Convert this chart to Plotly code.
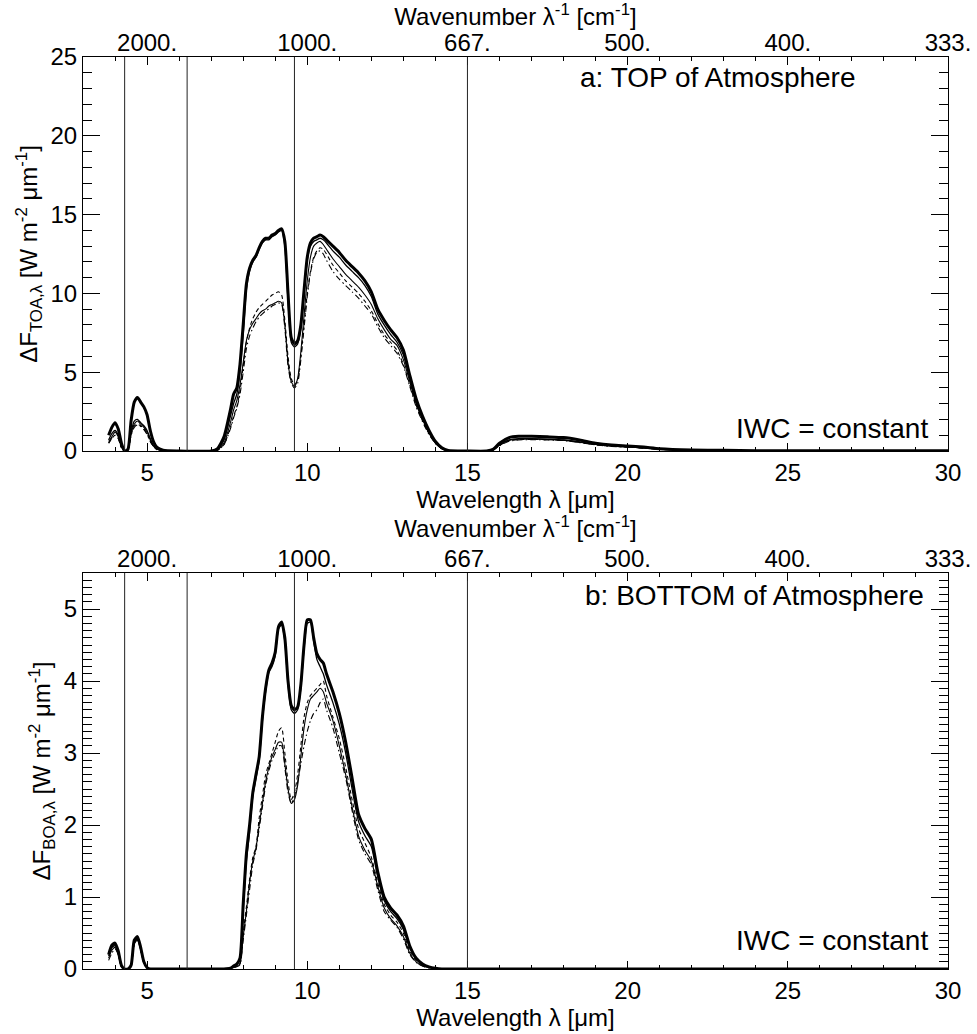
import plotly.graph_objects as go

# ---------------- data ----------------
X_A = [3.8, 3.9, 4.0, 4.1, 4.2, 4.3, 4.4, 4.5, 4.6, 4.7,
       4.8, 4.9, 5.0, 5.1, 5.2, 5.3, 5.5, 6.0, 7.0, 7.2,
       7.4, 7.6, 7.7, 7.8, 7.9, 8.0, 8.1, 8.2, 8.3, 8.4,
       8.5, 8.6, 8.7, 8.8, 8.9, 9.0, 9.1, 9.2, 9.3, 9.4,
       9.5, 9.6, 9.7, 9.8, 9.9, 10.0, 10.1, 10.2, 10.3, 10.4,
       10.5, 10.6, 10.8, 11.0, 11.2, 11.4, 11.6, 11.8, 12.0, 12.2,
       12.4, 12.6, 12.8, 13.0, 13.2, 13.4, 13.6, 13.8, 14.0, 14.2,
       14.4, 15.0, 15.6, 15.8, 16.0, 16.3, 16.6, 17.0, 17.5, 18.0,
       18.5, 19.0, 19.5, 20.0, 20.5, 21.0, 22.0, 23.0, 24.0, 25.0,
       26.0, 27.0, 28.0, 29.0, 30.0]

# TOA: thick solid
A_THICK = [1.0, 1.5, 1.8, 1.4, 0.5, 0.0, 0.1, 1.9, 3.1, 3.4,
           3.1, 2.8, 2.3, 1.3, 0.6, 0.25, 0.05, 0.0, 0.0, 0.15,
           0.9, 2.6, 3.6, 4.0, 5.5, 8.0, 10.6, 11.6, 12.1, 12.4,
           12.9, 13.3, 13.5, 13.5, 13.7, 13.8, 14.0, 14.1, 13.3, 10.0,
           7.2, 6.8, 7.0, 8.0, 10.2, 12.3, 13.2, 13.5, 13.6, 13.7,
           13.6, 13.4, 13.0, 12.6, 12.1, 11.7, 11.3, 10.8, 10.1, 9.0,
           8.3, 7.7, 7.2, 6.4, 4.8, 3.3, 2.2, 1.3, 0.6, 0.2,
           0.03, 0.0, 0.0, 0.1, 0.5, 0.85, 0.93, 0.93, 0.9, 0.85,
           0.7, 0.5, 0.38, 0.32, 0.25, 0.15, 0.07, 0.04, 0.02, 0.02,
           0.01, 0.01, 0.01, 0.01, 0.01]
# TOA: thin solid (close to thick)
A_THIN1 = [0.7, 1.1, 1.3, 1.0, 0.3, 0.0, 0.05, 1.2, 1.9, 2.0,
           1.8, 1.6, 1.3, 0.8, 0.35, 0.15, 0.03, 0.0, 0.0, 0.1,
           0.7, 2.2, 3.0, 3.6, 5.0, 7.4, 10.2, 11.4, 12.0, 12.3,
           12.8, 13.2, 13.4, 13.4, 13.6, 13.7, 13.9, 14.0, 13.0, 9.5,
           6.9, 6.6, 6.8, 7.8, 10.0, 12.1, 13.0, 13.3, 13.4, 13.5,
           13.4, 13.2, 12.7, 12.3, 11.8, 11.4, 11.0, 10.5, 9.8, 8.7,
           8.0, 7.4, 6.9, 6.1, 4.6, 3.1, 2.1, 1.2, 0.55, 0.18,
           0.02, 0.0, 0.0, 0.08, 0.4, 0.7, 0.78, 0.78, 0.75, 0.7,
           0.58, 0.42, 0.32, 0.27, 0.2, 0.12, 0.06, 0.03, 0.02, 0.01,
           0.01, 0.01, 0.01, 0.01, 0.01]
# TOA: dashed (low)
A_DASH = [0.5, 0.8, 1.0, 0.8, 0.2, 0.0, 0.05, 1.0, 1.6, 1.7,
          1.6, 1.4, 1.1, 0.6, 0.3, 0.1, 0.02, 0.0, 0.0, 0.05,
          0.4, 1.5, 2.2, 2.8, 3.8, 5.4, 6.9, 7.8, 8.4, 8.8,
          9.1, 9.3, 9.5, 9.7, 9.9, 10.0, 10.1, 9.9, 8.3, 6.0,
          4.6, 4.2, 4.5, 6.0, 8.0, 10.0, 11.4, 12.3, 12.7, 12.9,
          12.8, 12.5, 11.8, 11.3, 10.8, 10.4, 10.0, 9.5, 8.9, 8.1,
          7.4, 6.9, 6.4, 5.5, 4.2, 2.9, 1.9, 1.1, 0.5, 0.15,
          0.02, 0.0, 0.0, 0.06, 0.35, 0.65, 0.72, 0.74, 0.72, 0.68,
          0.55, 0.4, 0.3, 0.26, 0.19, 0.11, 0.05, 0.03, 0.02, 0.01,
          0.01, 0.01, 0.01, 0.01, 0.01]
# TOA: thin solid (low)
A_THIN2 = [0.6, 0.9, 1.2, 0.9, 0.25, 0.0, 0.05, 1.1, 1.7, 1.9,
           1.7, 1.5, 1.2, 0.7, 0.3, 0.12, 0.02, 0.0, 0.0, 0.08,
           0.5, 1.8, 2.6, 3.2, 4.2, 5.6, 7.0, 7.7, 8.1, 8.4,
           8.7, 8.9, 9.0, 9.2, 9.3, 9.4, 9.5, 9.4, 8.0, 5.6,
           4.4, 4.1, 4.6, 6.3, 8.6, 10.8, 12.3, 13.0, 13.2, 13.3,
           13.1, 12.8, 12.2, 11.7, 11.2, 10.8, 10.4, 9.9, 9.3, 8.4,
           7.7, 7.1, 6.7, 5.8, 4.4, 3.0, 2.0, 1.15, 0.52, 0.16,
           0.02, 0.0, 0.0, 0.07, 0.38, 0.68, 0.75, 0.76, 0.74, 0.69,
           0.56, 0.41, 0.31, 0.26, 0.2, 0.12, 0.06, 0.03, 0.02, 0.01,
           0.01, 0.01, 0.01, 0.01, 0.01]
# TOA: dash-dot (low)
A_DASHDOT = [0.5, 0.8, 1.0, 0.8, 0.2, 0.0, 0.05, 1.0, 1.5, 1.65,
             1.55, 1.35, 1.05, 0.6, 0.3, 0.1, 0.02, 0.0, 0.0, 0.05,
             0.4, 1.4, 2.1, 2.7, 3.6, 5.0, 6.5, 7.3, 7.8, 8.2,
             8.5, 8.7, 8.9, 9.0, 9.2, 9.3, 9.4, 9.3, 7.8, 5.4,
             4.3, 4.0, 4.3, 5.8, 7.8, 9.8, 11.3, 12.2, 12.6, 12.7,
             12.5, 12.1, 11.4, 10.9, 10.5, 10.1, 9.7, 9.2, 8.7, 7.9,
             7.2, 6.7, 6.2, 5.4, 4.1, 2.8, 1.85, 1.05, 0.48, 0.14,
             0.02, 0.0, 0.0, 0.06, 0.33, 0.62, 0.7, 0.72, 0.7, 0.66,
             0.53, 0.39, 0.29, 0.25, 0.18, 0.1, 0.05, 0.03, 0.02, 0.01,
             0.01, 0.01, 0.01, 0.01, 0.01]

X_B = [3.8, 3.9, 4.0, 4.1, 4.2, 4.3, 4.4, 4.5, 4.6, 4.7,
       4.8, 4.9, 5.0, 5.1, 5.2, 5.3, 5.5, 6.0, 7.0, 7.2,
       7.4, 7.6, 7.7, 7.8, 7.9, 8.0, 8.1, 8.2, 8.3, 8.4,
       8.5, 8.6, 8.7, 8.8, 8.9, 9.0, 9.1, 9.2, 9.3, 9.4,
       9.5, 9.6, 9.7, 9.8, 9.9, 10.0, 10.1, 10.2, 10.3, 10.4,
       10.5, 10.6, 10.8, 11.0, 11.2, 11.4, 11.6, 11.8, 12.0, 12.2,
       12.4, 12.6, 12.8, 13.0, 13.2, 13.4, 13.6, 13.8, 14.0, 14.2,
       15.0, 30.0]

B_THICK = [0.2, 0.33, 0.36, 0.25, 0.05, 0.0, 0.0, 0.05, 0.40, 0.45,
           0.3, 0.1, 0.02, 0.0, 0.0, 0.0, 0.0, 0.0, 0.0, 0.0,
           0.0, 0.01, 0.04, 0.07, 0.15, 0.9, 1.6, 2.0, 2.45, 2.7,
           2.95, 3.5, 3.9, 4.15, 4.25, 4.4, 4.75, 4.82, 4.6, 4.0,
           3.66, 3.6, 3.64, 3.95, 4.5, 4.85, 4.85, 4.6, 4.38, 4.3,
           4.25, 4.1, 3.85, 3.55, 3.15, 2.65, 2.15, 1.95, 1.8, 1.35,
           1.0, 0.85, 0.75, 0.6, 0.32, 0.15, 0.07, 0.03, 0.01, 0.0,
           0.0, 0.0]
B_THIN1 = [0.18, 0.3, 0.33, 0.22, 0.04, 0.0, 0.0, 0.04, 0.37, 0.42,
           0.27, 0.09, 0.02, 0.0, 0.0, 0.0, 0.0, 0.0, 0.0, 0.0,
           0.0, 0.01, 0.03, 0.06, 0.13, 0.8, 1.5, 1.9, 2.4, 2.65,
           2.9, 3.45, 3.85, 4.12, 4.2, 4.35, 4.72, 4.78, 4.55, 3.95,
           3.6, 3.55, 3.6, 3.9, 4.45, 4.8, 4.82, 4.55, 4.3, 4.2,
           4.1, 3.95, 3.7, 3.4, 3.0, 2.5, 2.05, 1.85, 1.7, 1.28,
           0.95, 0.8, 0.7, 0.55, 0.3, 0.14, 0.06, 0.03, 0.01, 0.0,
           0.0, 0.0]
B_DASH = [0.22, 0.3, 0.32, 0.22, 0.04, 0.0, 0.0, 0.04, 0.36, 0.42,
          0.27, 0.09, 0.02, 0.0, 0.0, 0.0, 0.0, 0.0, 0.0, 0.0,
          0.0, 0.01, 0.02, 0.04, 0.08, 0.5, 0.86, 1.25, 1.55, 1.7,
          2.1, 2.4, 2.7, 2.85, 3.0, 3.15, 3.3, 3.35, 3.0, 2.6,
          2.35, 2.45, 2.7, 3.1, 3.5, 3.7, 3.8, 3.85, 3.9, 3.95,
          4.0, 3.8, 3.5, 3.2, 2.8, 2.35, 1.95, 1.75, 1.55, 1.2,
          0.9, 0.75, 0.65, 0.5, 0.25, 0.12, 0.05, 0.02, 0.0, 0.0,
          0.0, 0.0]
B_THIN2 = [0.15, 0.26, 0.3, 0.2, 0.03, 0.0, 0.0, 0.04, 0.36, 0.42,
           0.27, 0.09, 0.02, 0.0, 0.0, 0.0, 0.0, 0.0, 0.0, 0.0,
           0.0, 0.01, 0.02, 0.04, 0.07, 0.45, 0.8, 1.2, 1.5, 1.68,
           2.0, 2.3, 2.6, 2.8, 2.95, 3.05, 3.15, 3.15, 2.85, 2.5,
           2.3, 2.35, 2.55, 2.95, 3.35, 3.6, 3.75, 3.8, 3.85, 3.9,
           3.85, 3.7, 3.45, 3.1, 2.7, 2.25, 1.85, 1.65, 1.5, 1.15,
           0.85, 0.7, 0.6, 0.45, 0.22, 0.1, 0.04, 0.02, 0.0, 0.0,
           0.0, 0.0]
B_DASHDOT = [0.12, 0.22, 0.28, 0.2, 0.03, 0.0, 0.0, 0.04, 0.35, 0.4,
             0.27, 0.09, 0.02, 0.0, 0.0, 0.0, 0.0, 0.0, 0.0, 0.0,
             0.0, 0.01, 0.02, 0.03, 0.06, 0.4, 0.75, 1.1, 1.45, 1.65,
             1.95, 2.25, 2.55, 2.75, 2.9, 3.0, 3.1, 3.1, 2.8, 2.45,
             2.3, 2.4, 2.6, 2.85, 3.1, 3.3, 3.45, 3.55, 3.6, 3.7,
             3.75, 3.6, 3.35, 3.0, 2.65, 2.2, 1.8, 1.6, 1.45, 1.1,
             0.8, 0.68, 0.58, 0.42, 0.2, 0.09, 0.04, 0.01, 0.0, 0.0,
             0.0, 0.0]

VLINES = [4.3, 6.25, 9.6, 15.0]
WL_TICKS = [5, 10, 15, 20, 25, 30]
WN_LABELS = ["2000.", "1000.", "667.", "500.", "400.", "333."]
A_YTICKS = [0, 5, 10, 15, 20, 25]
B_YTICKS = [0, 1, 2, 3, 4, 5]

# ---------------- figure ----------------
FONT = "Liberation Sans"
fig = go.Figure()

styles = [
    ("thin2", dict(width=1.1, dash="solid")),
    ("dashdot", dict(width=1.1, dash="6px,3px,1.5px,3px")),
    ("dash", dict(width=1.1, dash="4px,3px")),
    ("thin1", dict(width=1.3, dash="solid")),
    ("thick", dict(width=3, dash="solid")),
]
series_a = {"thick": A_THICK, "thin1": A_THIN1, "dash": A_DASH, "thin2": A_THIN2, "dashdot": A_DASHDOT}
series_b = {"thick": B_THICK, "thin1": B_THIN1, "dash": B_DASH, "thin2": B_THIN2, "dashdot": B_DASHDOT}

for key, ls in styles:
    fig.add_trace(go.Scatter(x=X_A, y=series_a[key], mode="lines", xaxis="x", yaxis="y",
                             line=dict(color="black", shape="spline", smoothing=0.6, **ls),
                             showlegend=False, hoverinfo="skip"))
    fig.add_trace(go.Scatter(x=X_B, y=series_b[key], mode="lines", xaxis="x2", yaxis="y2",
                             line=dict(color="black", shape="spline", smoothing=0.6, **ls),
                             showlegend=False, hoverinfo="skip"))

# invisible traces so the top (wavenumber) axes render
fig.add_trace(go.Scatter(x=X_A[:1], y=A_THICK[:1], xaxis="x3", yaxis="y", mode="markers",
                         marker=dict(opacity=0), showlegend=False, hoverinfo="skip"))
fig.add_trace(go.Scatter(x=X_B[:1], y=B_THICK[:1], xaxis="x4", yaxis="y2", mode="markers",
                         marker=dict(opacity=0), showlegend=False, hoverinfo="skip"))

XDOM = [83 / 977, 948 / 977]
YDOM_A = [(1034 - 451) / 1034, (1034 - 57) / 1034]
YDOM_B = [(1034 - 969) / 1034, (1034 - 573) / 1034]

tickfont = dict(family=FONT, size=24, color="black")
titlefont = dict(family=FONT, size=24, color="black")


def xaxis_bottom(anchor):
    return dict(domain=XDOM, anchor=anchor, range=[3, 30], tickmode="array", tickvals=WL_TICKS,
                ticks="inside", ticklen=8, tickwidth=1, tickcolor="black",
                minor=dict(tickmode="linear", tick0=3, dtick=1, ticks="inside", ticklen=4,
                           tickcolor="black", showgrid=False),
                showline=True, linecolor="black", linewidth=1, mirror="ticks",
                showgrid=False, zeroline=False, tickfont=tickfont, automargin=False,
                title=dict(text="Wavelength λ [μm]", font=titlefont, standoff=0))


def xaxis_top(overlay, anchor):
    return dict(domain=XDOM, anchor=anchor, overlaying=overlay, side="top", range=[3, 30],
                tickmode="array", tickvals=WL_TICKS, ticktext=WN_LABELS, ticks="",
                showline=False, showgrid=False, zeroline=False, tickfont=tickfont, automargin=False,
                title=dict(text="Wavenumber λ<sup>-1</sup> [cm<sup>-1</sup>]", font=titlefont, standoff=0))


def yaxis(dom, anchor, rng, tv, minor_dt, title):
    return dict(domain=dom, anchor=anchor, range=rng, tickmode="array", tickvals=tv,
                ticks="inside", ticklen=17, tickwidth=1, tickcolor="black",
                minor=dict(tickmode="linear", tick0=0, dtick=minor_dt, ticks="inside", ticklen=9,
                           tickcolor="black", showgrid=False),
                showline=True, linecolor="black", linewidth=1, mirror="ticks",
                showgrid=False, zeroline=False, tickfont=tickfont, automargin=False,
                title=dict(text=title, font=titlefont, standoff=6))


ya = yaxis(YDOM_A, "x", [0, 25], A_YTICKS, 1, "ΔF<sub>TOA,λ</sub> [W m<sup>-2</sup> μm<sup>-1</sup>]")
yb = yaxis(YDOM_B, "x2", [0, 5.5], B_YTICKS, 0.1, "ΔF<sub>BOA,λ</sub> [W m<sup>-2</sup> μm<sup>-1</sup>]")

fig.update_layout(
    width=977, height=1034, margin=dict(l=0, r=0, t=0, b=0, autoexpand=False),
    paper_bgcolor="white", plot_bgcolor="white",
    font=dict(family=FONT, color="black"),
    xaxis=xaxis_bottom("y"), yaxis=ya,
    xaxis2=xaxis_bottom("y2"), yaxis2=yb,
    xaxis3=xaxis_top("x", "y"), xaxis4=xaxis_top("x2", "y2"),
    showlegend=False,
)

shapes = []
for xr, yr in (("x", "y"), ("x2", "y2")):
    for v in VLINES:
        shapes.append(dict(type="line", xref=xr, yref=f"{yr} domain", x0=v, x1=v, y0=0, y1=1,
                           line=dict(color="#222", width=1)))
fig.update_layout(shapes=shapes)

annf = dict(family=FONT, size=28, color="black")
anns = [
    dict(text="a: TOP of Atmosphere", xref="x domain", yref="y domain", x=0.896, y=0.947),
    dict(text="IWC = constant", xref="x domain", yref="y domain", x=0.979, y=0.058),
    dict(text="b: BOTTOM of Atmosphere", xref="x2 domain", yref="y2 domain", x=0.975, y=0.942),
    dict(text="IWC = constant", xref="x2 domain", yref="y2 domain", x=0.979, y=0.073),
]
for a in anns:
    a.update(showarrow=False, xanchor="right", yanchor="middle", font=annf)
fig.update_layout(annotations=anns)

fig.write_html("out.html", config={"displayModeBar": False},
               post_script="document.body.style.margin='0';document.body.style.padding='0';"
                           "document.documentElement.style.overflow='hidden';")
